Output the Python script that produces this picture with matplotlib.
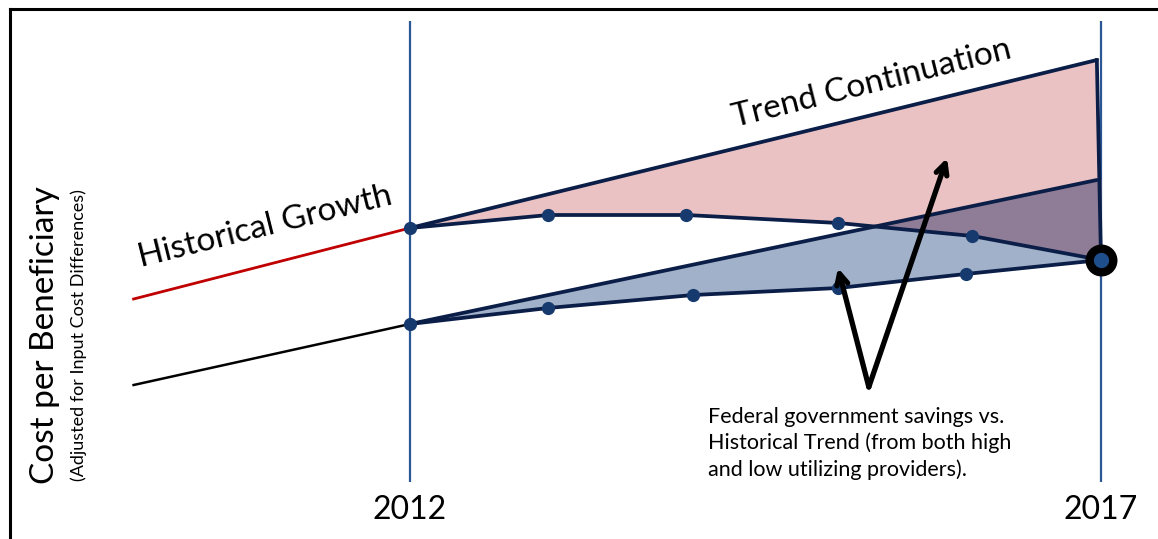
import numpy as np
import matplotlib
matplotlib.use("Agg")
import matplotlib.pyplot as plt
from matplotlib.lines import Line2D

plt.rcParams["font.family"] = ["Lato", "DejaVu Sans"]

# historical growth before 2012 (index units)
hist_years = [2010, 2012]
hist_high = [24.0, 31.1]
hist_low = [15.4, 21.5]

# trend continuation 2012 -> 2017
trend_years = [2012, 2016.97]
trend_high = [31.1, 47.9]
trend_low = [21.5, 35.9]

# observed paths
high_years = [2012, 2013, 2014, 2015.1, 2016.07, 2017]
high_cost = [31.1, 32.4, 32.4, 31.6, 30.3, 27.9]
low_years = [2012, 2013, 2014.05, 2015.1, 2016.02, 2017]
low_cost = [21.5, 23.1, 24.4, 25.1, 26.5, 27.9]

tick_years = [2012, 2017]

navy = "#0B1E48"
dot = "#173A6E"
vline = "#2B5797"
pink = "#EBC2C3"
blue = "#A0B1C9"
purple = "#8F7D97"

fig = plt.figure(figsize=(11.58, 5.39), dpi=100)
ax = fig.add_axes([0, 0, 1, 1])
ax.set_xlim(2012 - 410 / 138.2, 2012 + 748 / 138.2)
ax.set_ylim(0, 53.9)
ax.axis("off")

# border (left and top)
fig.add_artist(Line2D([9.5 / 1158, 9.5 / 1158], [0, 1 - 8.5 / 539], color="black", lw=2.2))
fig.add_artist(Line2D([9.5 / 1158, 1], [1 - 8.5 / 539, 1 - 8.5 / 539], color="black", lw=2.2))

ax.vlines(tick_years, 5.7, 51.8, color=vline, lw=1.6, zorder=1)

# savings areas
ax.fill(trend_years + high_years[::-1], trend_high + high_cost[::-1],
        color=pink, lw=0, zorder=2)
ax.fill(trend_years + low_years[::-1], trend_low + low_cost[::-1],
        color=blue, lw=0, zorder=2)
grid = np.linspace(2012, 2017, 400)
hi = np.interp(grid, high_years, high_cost)
lo_tr = np.interp(grid, trend_years, trend_low)
ax.fill_between(grid, hi, lo_tr, where=lo_tr > hi, interpolate=True,
                color=purple, lw=0, zorder=3)

# historical lines
ax.plot(hist_years, hist_high, color="#C00000", lw=2.0, zorder=4)
ax.plot(hist_years, hist_low, color="black", lw=1.8, zorder=4)

# trend and observed lines
lw = 2.7
ax.plot(trend_years, trend_high, color=navy, lw=lw, zorder=5, solid_capstyle="round")
ax.plot(trend_years, trend_low, color=navy, lw=lw, zorder=5, solid_capstyle="round")
ax.plot([trend_years[1], high_years[-1]], [trend_high[1], high_cost[-1]],
        color=navy, lw=lw, zorder=5)
ax.plot(high_years, high_cost, color=navy, lw=lw, zorder=5,
        marker="o", ms=8.5, mfc=dot, mec=dot)
ax.plot(low_years, low_cost, color=navy, lw=lw, zorder=5,
        marker="o", ms=8.5, mfc=dot, mec=dot)
ax.plot([high_years[-1]], [high_cost[-1]], marker="o", ms=17, mfc="#1F4E8C",
        mec="black", mew=6, zorder=6)

# arrows
apex = (2015.32, 15.2)
for tip in [(2015.886, 38.1), (2015.097, 27.1)]:
    ax.annotate("", xy=tip, xytext=apex,
                arrowprops=dict(arrowstyle="->,head_length=0.8,head_width=0.4",
                                color="black", lw=3.8, shrinkA=0, shrinkB=0),
                zorder=7)

# labels
ax.text(2010.95, 31.2, "Historical Growth", fontsize=24, rotation=14,
        ha="center", va="center", rotation_mode="anchor")
ax.text(2015.34, 45.5, "Trend Continuation", fontsize=24, rotation=14,
        ha="center", va="center", rotation_mode="anchor")
ax.text(2012 + (708 - 410) / 138.2, 13.2,
        "Federal government savings vs.\nHistorical Trend (from both high\nand low utilizing providers).",
        fontsize=15.5, ha="left", va="top", linespacing=1.35)

for yr in tick_years:
    ax.text(yr, 2.9, str(yr), fontsize=23, ha="center", va="center")

ax.text(2012 - (410 - 45) / 138.2, 20.4, "Cost per Beneficiary", fontsize=24,
        rotation=90, ha="center", va="center")
ax.text(2012 - (410 - 79) / 138.2, 20.4, "(Adjusted for Input Cost Differences)",
        fontsize=13, rotation=90, ha="center", va="center")

fig.savefig("out.png", dpi=100)
